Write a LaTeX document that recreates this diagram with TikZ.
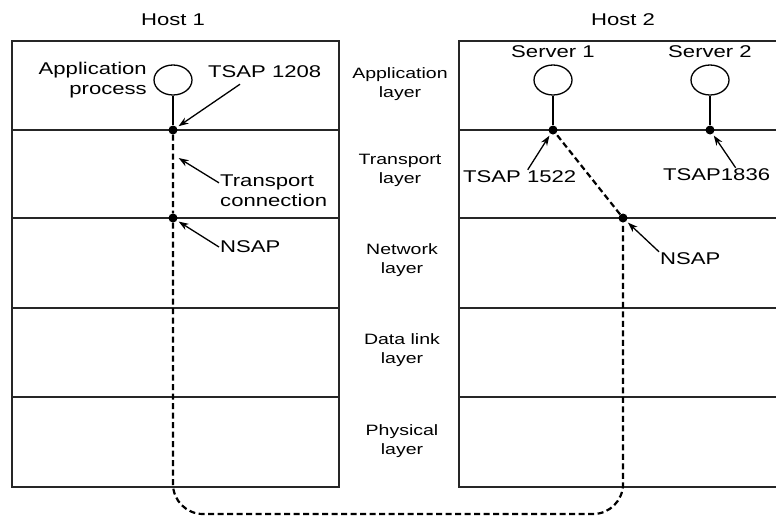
\documentclass[tikz,border=0pt]{standalone}
\usepackage{fontspec}
\setmainfont[FakeStretch=1.3]{Liberation Sans}
\usetikzlibrary{shapes.geometric,arrows.meta}
\tikzset{layerline/.style={line width=2pt, black!85}}
\tikzset{stem/.style={line width=2.8pt}}
\tikzset{conn/.style={line width=2.2pt, dash pattern=on 6pt off 3.5pt}}
\tikzset{dot/.style={circle, fill, inner sep=0pt, minimum size=9pt}}
\tikzset{proc/.style={draw, shape=ellipse, line width=1.3pt, minimum width=38pt, minimum height=30pt, inner sep=0pt}}
\tikzset{lbl/.style={inner sep=1pt, font=\fontsize{17}{20}\selectfont}}
\tikzset{layername/.style={inner sep=0pt, align=center, font=\fontsize{15}{19}\selectfont}}
\tikzset{pointer/.style={line width=1.3pt, -{Stealth[length=10pt,width=7pt]}, shorten >=2pt}}

\begin{document}
\begin{tikzpicture}[x=1pt,y=-1pt]
\clip (0,0) rectangle (776,517);
% the two protocol stacks
\draw[layerline] (12,41) rectangle (339,487);
\draw[layerline] (459,41) rectangle (800,487);
\foreach \y in {130,218,308,397}
{
  \draw[layerline] (12,\y) -- (339,\y);
  \draw[layerline] (459,\y) -- (800,\y);
}
\node[lbl] (host1) at (173,20) {Host 1};
\node[lbl] (host2) at (623,20) {Host 2};

% layer names
\node[layername] (lApp) at (400,84) {Application\\layer};
\node[layername] (lTrans) at (400,170) {Transport\\layer};
\node[layername] (lNet) at (402,260) {Network\\layer};
\node[layername] (lData) at (402,350) {Data link\\layer};
\node[layername] (lPhys) at (402,441) {Physical\\layer};

% host 1
\node[proc] (app) at (173,80) {};
\node[dot] (tsapA) at (173,130) {};
\node[dot] (nsapA) at (173,218) {};
\draw[stem] (app) -- (tsapA);
\node[lbl, anchor=east, align=right] (appLbl) at (148,80) {Application\\process};
\node[lbl, anchor=west] (tsapALbl) at (207,72) {TSAP 1208};
\node[lbl, anchor=west, align=left] (tconLbl) at (219,191) {Transport\\connection};
\node[lbl, anchor=west] (nsapALbl) at (219,247) {NSAP};
\coordinate (tconHead) at (177,157);

% host 2
\node[proc] (srv1) at (553,80) {};
\node[proc] (srv2) at (710,80) {};
\node[dot] (tsapB) at (553,130) {};
\node[dot] (tsapC) at (710,130) {};
\node[dot] (nsapB) at (623,218) {};
\draw[stem] (srv1) -- (tsapB);
\draw[stem] (srv2) -- (tsapC);
\node[lbl] (srv1Lbl) at (553,52) {Server 1};
\node[lbl] (srv2Lbl) at (710,52) {Server 2};
\node[lbl, anchor=west] (tsapBLbl) at (462,177) {TSAP 1522};
\node[lbl, anchor=west] (tsapCLbl) at (662,175) {TSAP1836};
\node[lbl, anchor=west] (nsapBLbl) at (659,259) {NSAP};

% transport connection
\draw[conn, rounded corners=30pt] (tsapA) -- (nsapA) -- (173,514) -- (623,514) -- (nsapB);
\draw[conn] (nsapB) -- (tsapB);

% pointers
\draw[pointer] ([xshift=33pt,yshift=-5pt]tsapALbl.south west) -- (tsapA);
\draw[pointer] ([yshift=-9pt]tconLbl.north west) -- (tconHead);
\draw[pointer] (nsapALbl.west) -- (nsapA);
\draw[pointer] ([xshift=8pt]tsapBLbl.north) -- (tsapB);
\draw[pointer] ([xshift=19pt]tsapCLbl.north) -- (tsapC);
\draw[pointer] (nsapBLbl.north west) -- (nsapB);
\end{tikzpicture}
\end{document}
